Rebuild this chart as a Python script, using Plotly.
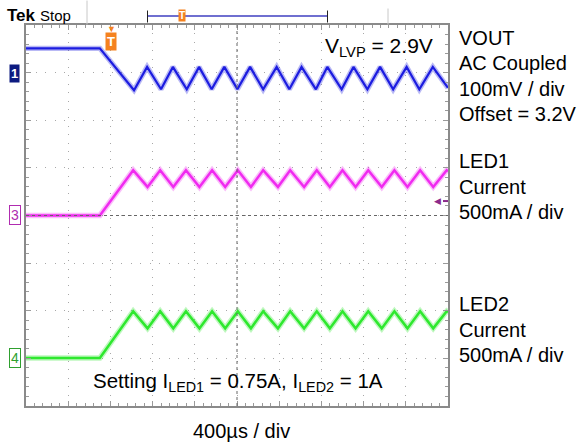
"""Tek scope capture: VOUT / LED1 / LED2 at LVP (2.9V), 400us/div."""

import plotly.graph_objects as go

# time in screen divisions (10 div across, 400us/div), values in screen divisions (-4..4)
VOUT_T = [0, 1.75, 2.56, 2.87, 3.20, 3.48, 3.81, 4.10, 4.40, 4.70, 5.01, 5.31, 5.62, 5.94,
          6.24, 6.53, 6.87, 7.14, 7.48, 7.76, 8.09, 8.39, 8.70, 9.02, 9.32, 9.64, 10.0]
VOUT_DIV = [3.51, 3.51, 2.63, 3.12, 2.65, 3.12, 2.65, 3.12, 2.65, 3.12, 2.65, 3.12, 2.65, 3.12,
            2.65, 3.12, 2.65, 3.12, 2.65, 3.12, 2.65, 3.12, 2.65, 3.12, 2.65, 3.12, 2.68]

LED_T = [0, 1.75, 2.54, 2.88, 3.18, 3.49, 3.79, 4.11, 4.41, 4.72, 5.02, 5.33, 5.62, 5.97,
         6.26, 6.59, 6.89, 7.20, 7.50, 7.81, 8.11, 8.43, 8.73, 9.04, 9.34, 9.65, 9.97, 10.0]
LED1_DIV = [0.0, 0.0, 0.95, 0.60, 0.95, 0.60, 0.95, 0.60, 0.95, 0.60, 0.95, 0.60, 0.95, 0.60,
            0.95, 0.60, 0.95, 0.60, 0.95, 0.60, 0.95, 0.60, 0.95, 0.60, 0.95, 0.60, 0.95, 0.93]
LED2_DIV = [-2.99, -2.99, -2.01, -2.37, -2.01, -2.37, -2.01, -2.37, -2.01, -2.37, -2.01, -2.37,
            -2.01, -2.37, -2.01, -2.37, -2.01, -2.37, -2.01, -2.37, -2.01, -2.37, -2.01, -2.37,
            -2.01, -2.37, -2.01, -2.03]

BLUE, MAGENTA, GREEN = "#1c1ce0", "#f02af0", "#2ee82e"
ORANGE = "#f5821f"
FONT = "Liberation Sans, Arial, sans-serif"

# plot frame in window pixels
L, R, T, B = 26, 448, 24.5, 406.5


def px(x):
    return (x - L) / (R - L)


def py(y):
    return (B - y) / (B - T)


fig = go.Figure()
for t, v, c, w in ((VOUT_T, VOUT_DIV, BLUE, 2.2), (LED_T, LED1_DIV, MAGENTA, 2.5), (LED_T, LED2_DIV, GREEN, 2.5)):
    # soft underlay to imitate the scope's noisy trace
    fig.add_trace(go.Scatter(x=t, y=v, mode="lines", line=dict(color=c, width=w + 3), opacity=0.3,
                             hoverinfo="skip", showlegend=False))
    fig.add_trace(go.Scatter(x=t, y=v, mode="lines", line=dict(color=c, width=w), showlegend=False))

grid = dict(showgrid=True, gridcolor="#a8a8a8", gridwidth=1, zeroline=False, showticklabels=False,
            showline=True, linecolor="#8a8a8a", linewidth=2, mirror="ticks", ticks="inside",
            ticklen=5, tickcolor="#9a9a9a", dtick=1,
            minor=dict(ticks="inside", ticklen=3, dtick=0.2, tickcolor="#9a9a9a", showgrid=False))
fig.update_xaxes(range=[0, 10], tick0=0, griddash="1px,7.4px", **grid)
fig.update_yaxes(range=[-4, 4], tick0=-4, griddash="1px,8.5px", **grid)

# centre graticule axes with tick marks on both sides
cen = dict(showgrid=False, zeroline=False, showticklabels=False, showline=False, dtick=1,
           ticklen=4, tickcolor="#555", minor=dict(ticklen=3, dtick=0.2, tickcolor="#777"))
fig.update_layout(
    xaxis2=dict(overlaying="x", anchor="free", position=0.5, range=[0, 10], ticks="inside",
                minor_ticks="inside", **cen),
    xaxis3=dict(overlaying="x", anchor="free", position=0.5, range=[0, 10], ticks="outside",
                minor_ticks="outside", **cen),
    yaxis2=dict(overlaying="y", anchor="free", position=0.5, range=[-4, 4], ticks="inside",
                minor_ticks="inside", **cen),
    yaxis3=dict(overlaying="y", anchor="free", position=0.5, range=[-4, 4], ticks="outside",
                minor_ticks="outside", **cen),
)

shapes = [
    dict(type="line", xref="paper", yref="paper", x0=0, x1=1, y0=0.5, y1=0.5,
         line=dict(color="#666", width=1, dash="dot")),
    dict(type="line", xref="paper", yref="paper", x0=0.5, x1=0.5, y0=0, y1=1,
         line=dict(color="#666", width=1, dash="dot")),
    # header bar
    dict(type="line", xref="paper", yref="paper", x0=px(87), x1=px(87), y0=py(0), y1=py(24),
         line=dict(color="#c8c8c8", width=1)),
    dict(type="line", xref="paper", yref="paper", x0=px(388), x1=px(388), y0=py(8), y1=py(24),
         line=dict(color="#c8c8c8", width=1)),
    dict(type="line", xref="paper", yref="paper", x0=px(148), x1=px(327), y0=py(15.5), y1=py(15.5),
         line=dict(color="#6f6fd0", width=2)),
    dict(type="line", xref="paper", yref="paper", x0=px(147.5), x1=px(147.5), y0=py(10), y1=py(22),
         line=dict(color="#222", width=1)),
    dict(type="line", xref="paper", yref="paper", x0=px(327.5), x1=px(327.5), y0=py(10), y1=py(22),
         line=dict(color="#222", width=1)),
    dict(type="line", xref="paper", yref="paper", x0=px(443), x1=px(448), y0=py(201), y1=py(201),
         line=dict(color="#8b2a8b", width=2)),
]


def note(x, y, text, size=20, color="black", anchor="left", **kw):
    return dict(x=px(x), y=py(y), xref="paper", yref="paper", text=text, showarrow=False,
                xanchor=anchor, yanchor="middle", font=dict(family=FONT, size=size, color=color), **kw)


ann = [
    note(5, 15, "<b>Tek</b>", size=17),
    note(38, 15, "Stop", size=15),
    note(182, 15, "<b>T</b>", size=10, color="white", anchor="center", bgcolor=ORANGE, borderpad=0),
    note(111, 29, "▼", size=9, color=ORANGE, anchor="center"),
    note(111, 41, "<b>T</b>", size=13, color="white", anchor="center", bgcolor=ORANGE, borderpad=1),
    note(9, 73, "<b>1</b>", size=13, color="white", bgcolor="#0d1b80", borderpad=1),
    note(9, 215, "3", size=14, color="#b02cb0", bgcolor="white", bordercolor="#b02cb0", borderpad=1),
    note(9, 358, "4", size=14, color="#2fa02f", bgcolor="white", bordercolor="#2fa02f", borderpad=1),
    note(437, 201, "◀", size=9, color="#8b2a8b", anchor="center"),
    note(323, 47, "V<sub>LVP</sub> = 2.9V", size=21),
    note(91, 382, "Setting I<sub>LED1</sub> = 0.75A, I<sub>LED2</sub> = 1A", size=20.5),
    note(242, 432, "400µs / div", size=20, anchor="center"),
]
for y, line in ((38, "VOUT"), (63, "AC Coupled"), (89, "100mV / div"), (114, "Offset = 3.2V"),
                (161, "LED1"), (187, "Current"), (212, "500mA / div"),
                (304, "LED2"), (330, "Current"), (355, "500mA / div")):
    ann.append(note(457, y, line, size=20))

fig.update_layout(
    width=584, height=447,
    margin=dict(l=L, r=584 - R, t=T, b=447 - B),
    paper_bgcolor="white", plot_bgcolor="white",
    shapes=shapes, annotations=ann,
)
# the page body has a default 8px margin; drop it so the figure sits at the window origin
fig.write_html("out.html", config={"displayModeBar": False},
               post_script="document.body.style.margin='0';")
